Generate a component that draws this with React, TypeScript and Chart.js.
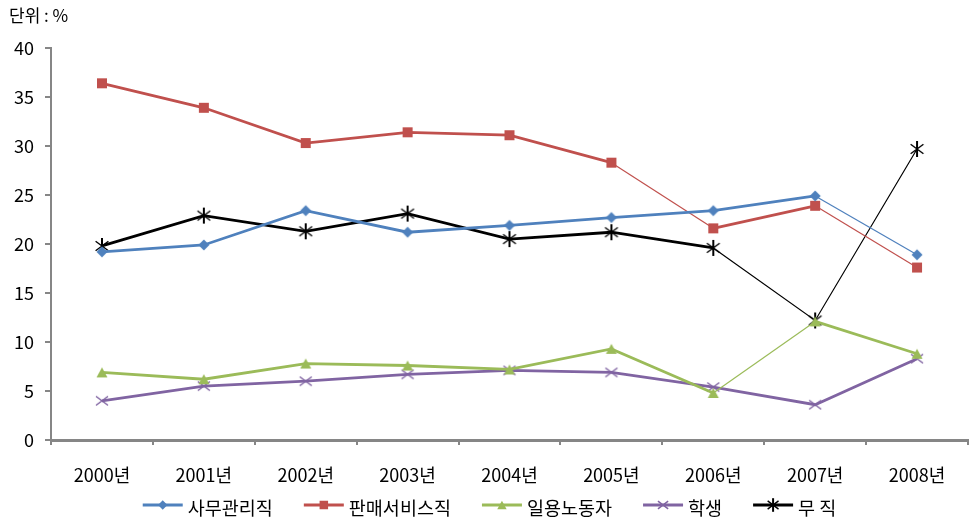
import React, { useEffect, useRef } from 'react';
import { Chart, registerables } from 'chart.js';
Chart.register(...registerables);

const years = ['2000년', '2001년', '2002년', '2003년', '2004년', '2005년', '2006년', '2007년', '2008년'];
const seriesNames = ['사무관리직', '판매서비스직', '일용노동자', '학생', '무 직'];
const office = [19.2, 19.9, 23.4, 21.2, 21.9, 22.7, 23.4, 24.9, 18.9];
const sales = [36.4, 33.9, 30.3, 31.4, 31.1, 28.3, 21.6, 23.9, 17.6];
const labor = [6.9, 6.2, 7.8, 7.6, 7.2, 9.3, 4.8, 12.1, 8.8];
const student = [4.0, 5.5, 6.0, 6.7, 7.1, 6.9, 5.4, 3.6, 8.3];
const jobless = [19.8, 22.9, 21.3, 23.1, 20.5, 21.2, 19.6, 12.2, 29.7];
// index of segment start points that are drawn as thin lines
const thinOffice = [7];
const thinSales = [5, 7];
const thinLabor = [6];
const thinStudent: number[] = [];
const thinJobless = [6, 7];
const yMin = 0;
const yMax = 40;
const yStep = 5;
const unitLabel = '단위 : %';

const FONT = '"Noto Sans CJK KR", "Noto Sans", sans-serif';
const colors = ['#4F81BD', '#C0504D', '#9BBB59', '#8064A2', '#000000'];
const markers = ['diamond', 'square', 'triangle', 'cross', 'asterisk'];

function drawMarker(ctx: CanvasRenderingContext2D, type: string, x: number, y: number, color: string, s: number) {
  ctx.save();
  ctx.fillStyle = color;
  ctx.strokeStyle = color;
  ctx.lineCap = 'butt';
  if (type === 'diamond') {
    const r = 5.5 * s;
    ctx.beginPath();
    ctx.moveTo(x, y - r);
    ctx.lineTo(x + r, y);
    ctx.lineTo(x, y + r);
    ctx.lineTo(x - r, y);
    ctx.closePath();
    ctx.fill();
  } else if (type === 'square') {
    const h = 5 * s;
    ctx.fillRect(x - h, y - h, 2 * h, 2 * h);
  } else if (type === 'triangle') {
    const w = 5.5 * s;
    const h = 5 * s;
    ctx.beginPath();
    ctx.moveTo(x, y - h);
    ctx.lineTo(x + w, y + h);
    ctx.lineTo(x - w, y + h);
    ctx.closePath();
    ctx.fill();
  } else if (type === 'cross') {
    const r = 6 * s;
    ctx.lineWidth = 1.5;
    ctx.beginPath();
    ctx.moveTo(x - r, y - r * 0.75);
    ctx.lineTo(x + r, y + r * 0.75);
    ctx.moveTo(x - r, y + r * 0.75);
    ctx.lineTo(x + r, y - r * 0.75);
    ctx.stroke();
  } else if (type === 'asterisk') {
    const r = 8 * s;
    ctx.lineWidth = 2;
    ctx.beginPath();
    ctx.moveTo(x, y - r);
    ctx.lineTo(x, y + r);
    ctx.stroke();
    ctx.lineWidth = 1.4;
    ctx.beginPath();
    ctx.moveTo(x - r * 0.8, y - r * 0.6);
    ctx.lineTo(x + r * 0.8, y + r * 0.6);
    ctx.moveTo(x - r * 0.8, y + r * 0.6);
    ctx.lineTo(x + r * 0.8, y - r * 0.6);
    ctx.stroke();
  }
  ctx.restore();
}

function pointImage(i: number) {
  const c = document.createElement('canvas');
  c.width = 20;
  c.height = 20;
  const ctx = c.getContext('2d')!;
  drawMarker(ctx, markers[i], 10, 10, colors[i], 1);
  return c;
}

const unitPlugin = {
  id: 'unitLabel',
  afterDraw(chart: any) {
    const c = chart.ctx;
    c.save();
    c.font = `17px ${FONT}`;
    c.fillStyle = '#000';
    c.textBaseline = 'middle';
    c.textAlign = 'left';
    c.fillText(unitLabel, 9, 16);
    c.restore();
  },
};

// legend drawn as line sample + marker + text, centred under the chart
const legendPlugin = {
  id: 'lineLegend',
  afterDraw(chart: any) {
    const c: CanvasRenderingContext2D = chart.ctx;
    c.save();
    c.font = `18.5px ${FONT}`;
    const sample = 40;
    const gap = 5;
    const between = 31;
    const widths = chart.data.datasets.map((d: any) => sample + gap + c.measureText(d.label).width);
    const total = widths.reduce((a: number, b: number) => a + b, 0) + between * (widths.length - 1);
    let x = (chart.width - total) / 2;
    const lineY = 505;
    chart.data.datasets.forEach((d: any, i: number) => {
      c.strokeStyle = colors[i];
      c.lineWidth = 3;
      c.beginPath();
      c.moveTo(x, lineY);
      c.lineTo(x + sample, lineY);
      c.stroke();
      drawMarker(c, markers[i], x + sample / 2, lineY, colors[i], 0.85);
      c.fillStyle = '#000';
      c.textBaseline = 'middle';
      c.textAlign = 'left';
      c.fillText(d.label, x + sample + gap, lineY + 3);
      x += widths[i] + between;
    });
    c.restore();
  },
};

export default function App() {
  const ref = useRef<HTMLCanvasElement>(null);
  useEffect(() => {
    document.body.style.margin = '0';
    const series = [office, sales, labor, student, jobless];
    const thins = [thinOffice, thinSales, thinLabor, thinStudent, thinJobless];
    const datasets = series.map((d, i) => ({
      label: seriesNames[i],
      data: d,
      borderColor: colors[i],
      backgroundColor: colors[i],
      borderWidth: 2.8,
      pointStyle: pointImage(i),
      pointRadius: 6,
      tension: 0,
      segment: {
        borderWidth: (ctx: any) => (thins[i].includes(ctx.p0DataIndex) ? 1.2 : 2.8),
      },
    }));
    const chart = new Chart(ref.current!, {
      type: 'line',
      data: { labels: years, datasets },
      plugins: [unitPlugin, legendPlugin],
      options: {
        animation: false,
        responsive: false,
        maintainAspectRatio: false,
        layout: { padding: { left: 0, right: 11, top: 48, bottom: 35 } },
        plugins: {
          tooltip: { enabled: false },
          legend: { display: false },
        },
        scales: {
          x: {
            offset: true,
            grid: {
              display: true,
              drawOnChartArea: false,
              drawTicks: true,
              tickLength: 5,
              offset: true,
              color: '#868686',
              lineWidth: 2,
            },
            border: { display: true, color: '#868686', width: 3 },
            ticks: { color: '#000', padding: 19, font: { family: FONT, size: 18 } },
            afterFit: (s: any) => {
              s.height = 50;
            },
          },
          y: {
            min: yMin,
            max: yMax,
            grid: {
              display: true,
              drawOnChartArea: false,
              drawTicks: true,
              tickLength: 6,
              color: '#868686',
              lineWidth: 2,
            },
            border: { display: true, color: '#868686', width: 2 },
            ticks: { stepSize: yStep, color: '#000', padding: 11, font: { family: FONT, size: 18 } },
            afterFit: (s: any) => {
              s.width = 51;
            },
          },
        },
      },
    } as any);
    return () => chart.destroy();
  }, []);
  return <canvas ref={ref} width={979} height={525} style={{ display: 'block', width: 979, height: 525 }} />;
}
